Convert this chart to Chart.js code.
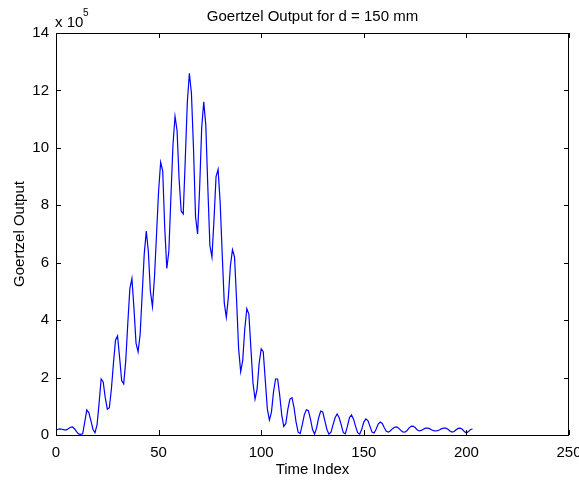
<!DOCTYPE html>
<html>
<head>
<meta charset="utf-8">
<title>Goertzel Output</title>
<script src="https://cdn.jsdelivr.net/npm/chart.js@4.4.1/dist/chart.umd.min.js"></script>
<style>
  html, body { margin: 0; padding: 0; background: #fff; }
  #chart { display: block; }
</style>
</head>
<body>
<canvas id="chart" width="579" height="480"></canvas>
<script>
// Goertzel output, in units of 10^5, one value per time index (0..203)
const goertzelOut = [
  0.17, 0.20, 0.21, 0.20, 0.18, 0.18, 0.22, 0.27, 0.28, 0.22,
  0.12, 0.04, 0.02, 0.04, 0.45, 0.87, 0.78, 0.50, 0.20, 0.08,
  0.35, 1.10, 1.95, 1.85, 1.30, 0.90, 0.95, 1.60, 2.50, 3.30,
  3.45, 2.70, 1.90, 1.78, 2.60, 3.90, 5.10, 5.45, 4.40, 3.20,
  2.90, 3.50, 4.90, 6.30, 7.10, 6.40, 5.00, 4.47, 5.50, 7.00,
  8.50, 9.50, 9.20, 7.20, 5.80, 6.40, 8.30, 10.10, 11.10, 10.60,
  8.90, 7.80, 7.70, 9.60, 11.60, 12.60, 11.90, 10.00, 7.60, 7.00,
  8.60, 10.70, 11.60, 10.80, 8.60, 6.60, 6.20, 7.50, 9.00, 9.25,
  8.10, 6.30, 4.60, 4.10, 4.80, 5.90, 6.45, 6.20, 4.70, 3.00,
  2.20, 2.60, 3.70, 4.40, 4.20, 3.00, 1.80, 1.25, 1.60, 2.50,
  3.00, 2.90, 1.90, 0.90, 0.52, 0.80, 1.50, 1.95, 1.95, 1.40,
  0.70, 0.30, 0.40, 0.90, 1.25, 1.30, 0.95, 0.45, 0.10, 0.05,
  0.35, 0.70, 0.88, 0.85, 0.55, 0.20, 0.03, 0.25, 0.60, 0.83,
  0.80, 0.50, 0.20, 0.03, 0.10, 0.35, 0.60, 0.73, 0.60, 0.35,
  0.08, 0.04, 0.30, 0.60, 0.70, 0.55, 0.30, 0.08, 0.03, 0.20,
  0.45, 0.56, 0.50, 0.30, 0.10, 0.07, 0.20, 0.38, 0.45, 0.40,
  0.25, 0.13, 0.10, 0.15, 0.22, 0.27, 0.28, 0.24, 0.16, 0.11,
  0.10, 0.15, 0.24, 0.30, 0.31, 0.26, 0.18, 0.14, 0.16, 0.20,
  0.24, 0.24, 0.22, 0.18, 0.15, 0.14, 0.15, 0.18, 0.22, 0.24,
  0.24, 0.20, 0.14, 0.10, 0.12, 0.18, 0.23, 0.24, 0.20, 0.12,
  0.07, 0.12, 0.19, 0.21
];

const xTicks = [0, 50, 100, 150, 200, 250];
const yTicks = [0, 2, 4, 6, 8, 10, 12, 14];

const titleText = 'Goertzel Output for d = 150 mm';
const xLabel = 'Time Index';
const yLabel = 'Goertzel Output';
const yExponent = '5';

const FONT = '"Liberation Sans", Arial, Helvetica, sans-serif';

// MATLAB style box, inward ticks on all four sides, titles
const matlabFrame = {
  id: 'matlabFrame',
  afterDraw(chart) {
    const { ctx, chartArea: a, scales: { x, y } } = chart;
    const L = 5;
    ctx.save();
    ctx.strokeStyle = '#000';
    ctx.lineWidth = 1;
    ctx.strokeRect(a.left + 0.5, a.top + 0.5, a.right - a.left - 1, a.bottom - a.top);

    ctx.beginPath();
    xTicks.forEach(v => {
      const px = Math.round(x.getPixelForValue(v)) + 0.5;
      ctx.moveTo(px, a.bottom); ctx.lineTo(px, a.bottom - L);
      ctx.moveTo(px, a.top); ctx.lineTo(px, a.top + L);
    });
    yTicks.forEach(v => {
      const py = Math.round(y.getPixelForValue(v)) + 0.5;
      ctx.moveTo(a.left, py); ctx.lineTo(a.left + L, py);
      ctx.moveTo(a.right, py); ctx.lineTo(a.right - L, py);
    });
    ctx.stroke();

    ctx.fillStyle = '#000';
    ctx.font = `15px ${FONT}`;
    ctx.textAlign = 'center';
    ctx.textBaseline = 'alphabetic';
    ctx.fillText(titleText, (a.left + a.right) / 2, 21);
    ctx.fillText(xLabel, (a.left + a.right) / 2, 474);

    ctx.save();
    ctx.translate(24, (a.top + a.bottom) / 2);
    ctx.rotate(-Math.PI / 2);
    ctx.fillText(yLabel, 0, 0);
    ctx.restore();

    // exponent label above the y axis
    ctx.textAlign = 'left';
    ctx.fillText('x 10', a.left - 1, 27);
    ctx.font = `10px ${FONT}`;
    ctx.fillText(yExponent, a.left + 27, 16);
    ctx.restore();
  }
};

const ctx = document.getElementById('chart').getContext('2d');
new Chart(ctx, {
  type: 'line',
  data: {
    datasets: [{
      data: goertzelOut.map((v, i) => ({ x: i, y: v })),
      borderColor: '#0000ff',
      borderWidth: 1.2,
      pointRadius: 0,
      tension: 0,
      fill: false,
    }],
  },
  options: {
    responsive: false,
    animation: false,
    devicePixelRatio: 1,
    layout: { padding: { left: 0, top: 33, right: 10, bottom: 0 } },
    plugins: {
      legend: { display: false },
      title: { display: false },
      tooltip: { enabled: false },
    },
    scales: {
      x: {
        type: 'linear',
        min: 0,
        max: 250,
        afterBuildTicks: scale => { scale.ticks = xTicks.map(v => ({ value: v })); },
        afterFit: scale => {
          scale.height = 45;
          scale.paddingLeft = 0;
          scale.paddingRight = 0;
        },
        grid: { display: false, drawTicks: false },
        border: { display: false },
        ticks: {
          color: '#000',
          font: { family: FONT, size: 15 },
          padding: 9,
          maxRotation: 0,
        },
      },
      y: {
        type: 'linear',
        min: 0,
        max: 14,
        afterBuildTicks: scale => { scale.ticks = yTicks.map(v => ({ value: v })); },
        afterFit: scale => {
          scale.width = 56;
          scale.paddingTop = 0;
          scale.paddingBottom = 0;
        },
        grid: { display: false, drawTicks: false },
        border: { display: false },
        ticks: {
          color: '#000',
          font: { family: FONT, size: 15 },
          padding: 7,
        },
      },
    },
  },
  plugins: [matlabFrame],
});
</script>
</body>
</html>
